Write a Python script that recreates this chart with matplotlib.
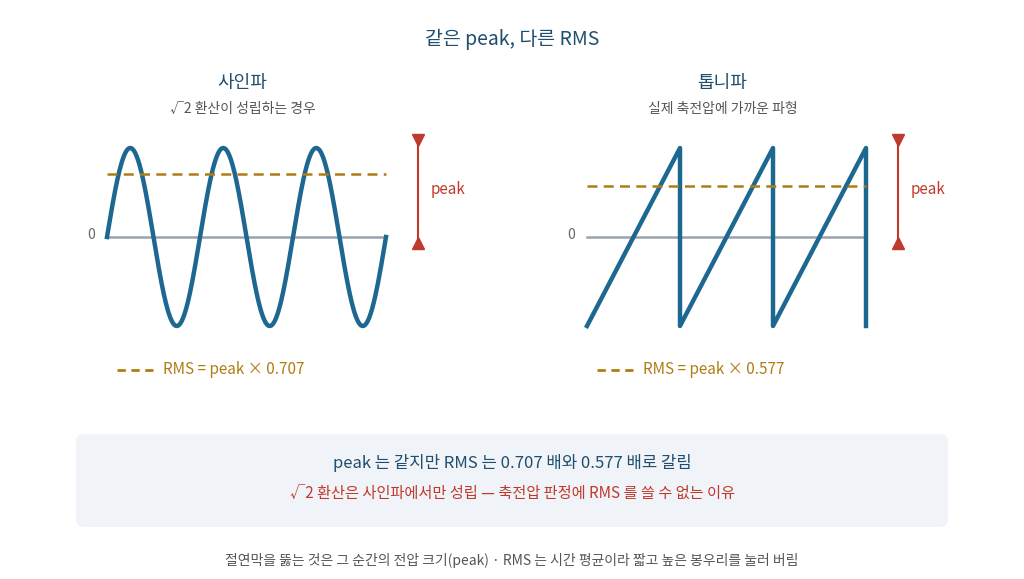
import numpy as np
import matplotlib.pyplot as plt
from matplotlib.patches import FancyBboxPatch

plt.rcParams["font.family"] = ["Noto Sans CJK KR", "DejaVu Sans"]

# chart values
PEAK = 1.0
CYCLES = 3
SINE_RMS = 0.707
SAW_RMS = 0.577
panel_titles = ["사인파", "톱니파"]
panel_subtitles = ["√2 환산이 성립하는 경우", "실제 축전압에 가까운 파형"]
legend_labels = ["RMS = peak × 0.707", "RMS = peak × 0.577"]

WAVE = "#1d6891"
GOLD = "#b07d12"
RED = "#c0392b"
NAVY = "#1f4e6e"
GREY = "#9aa3ad"

fig = plt.figure(figsize=(10.24, 5.79), dpi=100)
ax = fig.add_axes([0, 0, 1, 1])
ax.set_xlim(0, 1024)
ax.set_ylim(579, 0)
ax.axis("off")

AMP = 89
Y0 = 237


def to_y(v):
    return Y0 - v * AMP


def panel(x0, x1, xs, ys, rms, title, sub, label, arrow_x):
    cx = (x0 + x1) / 2 - 4
    ax.text(cx, 83, title, ha="center", va="center", fontsize=13, color=NAVY)
    ax.text(cx, 109, sub, ha="center", va="center", fontsize=10, color="#555555")
    ax.plot([x0, x1], [Y0, Y0], color=GREY, lw=1.8, zorder=1)
    ax.text(x0 - 12, 235, "0", ha="right", va="center", fontsize=10, color="#666666")
    ax.plot(x0 + xs * (x1 - x0), to_y(ys), color=WAVE, lw=3.2, zorder=2)
    ax.plot([x0, x1], [to_y(rms), to_y(rms)], color=GOLD, lw=1.8, ls=(0, (4, 2.5)), zorder=3)
    # peak marker
    ax.plot([arrow_x, arrow_x], [136, 246], color=RED, lw=1.5)
    ax.plot(arrow_x, 140, marker="v", color=RED, ms=9)
    ax.plot(arrow_x, 243, marker="^", color=RED, ms=9)
    ax.text(arrow_x + 13, 190, "peak", ha="left", va="center", fontsize=11, color=RED)
    # legend
    ax.plot([x0 + 10, x0 + 46], [370, 370], color=GOLD, lw=2, ls=(0, (3, 2)))
    ax.text(x0 + 56, 369, label, ha="left", va="center", fontsize=11, color=GOLD)


t = np.linspace(0, 1, 600)
sine = PEAK * np.sin(2 * np.pi * CYCLES * t)
panel(107, 386, t, sine, PEAK * SINE_RMS, panel_titles[0], panel_subtitles[0], legend_labels[0], 418)

saw_x = []
saw_y = []
for k in range(CYCLES):
    a, b = k / CYCLES, (k + 1) / CYCLES
    saw_x += [a, b, b]
    saw_y += [-PEAK, PEAK, -PEAK]
panel(587, 866, np.array(saw_x), np.array(saw_y), PEAK * SAW_RMS,
      panel_titles[1], panel_subtitles[1], legend_labels[1], 898)

ax.text(512, 39, "같은 peak, 다른 RMS", ha="center", va="center", fontsize=14, color=NAVY)

box = FancyBboxPatch((76, 434), 872, 93, boxstyle="round,pad=0,rounding_size=8",
                     facecolor="#f0f3f8", edgecolor="none")
ax.add_patch(box)
ax.text(512, 463, "peak 는 같지만 RMS 는 0.707 배와 0.577 배로 갈림", ha="center", va="center",
        fontsize=12, color=NAVY)
ax.text(512, 493, "√2 환산은 사인파에서만 성립 — 축전압 판정에 RMS 를 쓸 수 없는 이유", ha="center",
        va="center", fontsize=11, color=RED)
ax.text(512, 560, "절연막을 뚫는 것은 그 순간의 전압 크기(peak) · RMS 는 시간 평균이라 짧고 높은 봉우리를 눌러 버림",
        ha="center", va="center", fontsize=10, color="#555555")

fig.savefig("out.png", dpi=100, facecolor="white")
